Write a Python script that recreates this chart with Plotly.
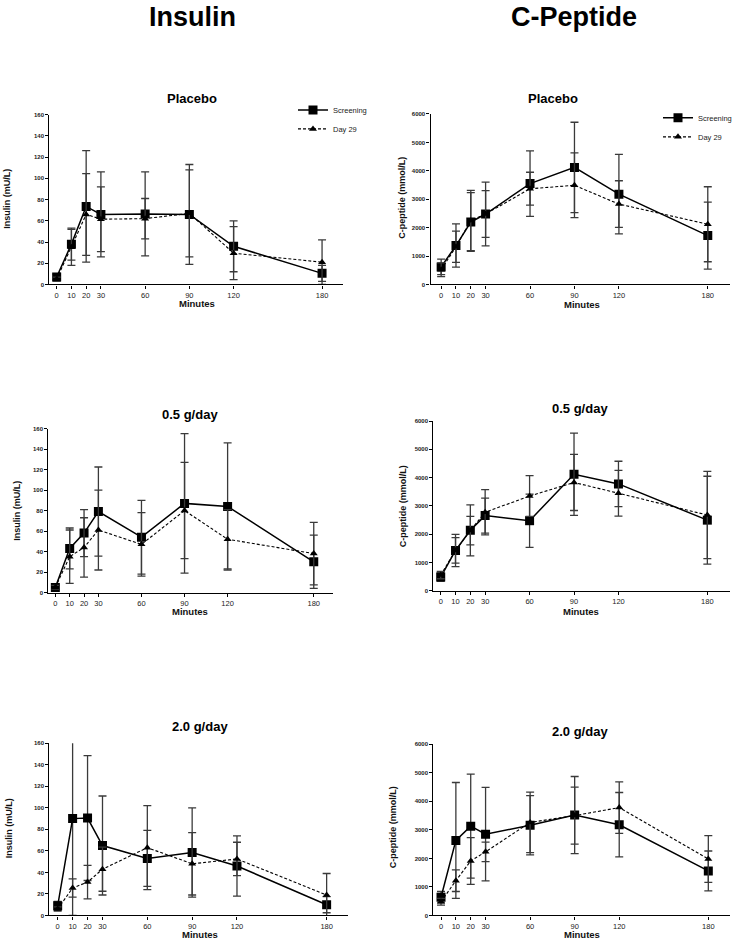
import plotly.graph_objects as go

W, H = 737, 944

minutes = [0, 10, 20, 30, 60, 90, 120, 180]
x_ticks = [0, 10, 20, 30, 60, 90, 120, 180]
ins_ticks = [0, 20, 40, 60, 80, 100, 120, 140, 160]
cp_ticks = [0, 1000, 2000, 3000, 4000, 5000, 6000]

# Insulin, Placebo
ins_pl_scr = [7, 38, 73.5, 66, 66.5, 66, 36, 10.5]
ins_pl_scr_sd = [2.5, 15, 52.5, 40, 39.5, 47, 24, 7.5]
ins_pl_d29 = [5, 35, 66, 61.5, 62, 67, 29.5, 21]
ins_pl_d29_sd = [2, 17, 38.5, 30.5, 19, 41, 25, 21]
# C-peptide, Placebo
cp_pl_scr = [620, 1370, 2200, 2480, 3550, 4120, 3180, 1720]
cp_pl_scr_sd = [270, 760, 1030, 1120, 1150, 1590, 1400, 1180]
cp_pl_d29 = [520, 1330, 2250, 2480, 3370, 3490, 2830, 2120]
cp_pl_d29_sd = [240, 550, 1060, 820, 580, 1140, 820, 1320]
# Insulin, 0.5 g/day
ins_05_scr = [5, 43, 58, 79, 54, 87, 84, 30]
ins_05_scr_sd = [2, 20, 23, 43.5, 36, 68, 62, 26]
ins_05_d29 = [5, 35, 44, 61, 47, 80, 52, 38]
ins_05_d29_sd = [2, 26, 29, 39, 31, 47, 29, 30.5]
# C-peptide, 0.5 g/day
cp_05_scr = [490, 1430, 2140, 2660, 2480, 4120, 3780, 2500]
cp_05_scr_sd = [150, 570, 900, 620, 940, 1450, 800, 1550]
cp_05_d29 = [560, 1430, 2130, 2780, 3350, 3830, 3450, 2680]
cp_05_d29_sd = [130, 450, 500, 800, 720, 990, 810, 1540]
# Insulin, 2.0 g/day
ins_20_scr = [9, 90, 90.5, 65, 53, 58.5, 46, 10]
ins_20_scr_sd = [4, 90, 58, 46, 26, 41.5, 28, 7.5]
ins_20_d29 = [6, 25.5, 31, 43, 63, 48, 52.5, 19]
ins_20_d29_sd = [2, 8.5, 15.5, 20.5, 39, 29, 15.5, 20]
# C-peptide, 2.0 g/day
cp_20_scr = [640, 2630, 3130, 2850, 3160, 3520, 3180, 1560]
cp_20_scr_sd = [200, 2030, 1820, 1640, 1040, 1350, 1130, 700]
cp_20_d29 = [480, 1220, 1910, 2230, 3260, 3500, 3780, 1980]
cp_20_d29_sd = [120, 380, 820, 340, 1060, 1000, 900, 820]

col_titles = ["Insulin", "C-Peptide"]
panel_titles = ["Placebo", "Placebo", "0.5 g/day", "0.5 g/day", "2.0 g/day", "2.0 g/day"]
y_titles = ["Insulin (mU/L)", "C-peptide (mmol/L)"] * 3
series_names = ["Screening", "Day 29"]

panels = [
    (ins_pl_scr, ins_pl_scr_sd, ins_pl_d29, ins_pl_d29_sd),
    (cp_pl_scr, cp_pl_scr_sd, cp_pl_d29, cp_pl_d29_sd),
    (ins_05_scr, ins_05_scr_sd, ins_05_d29, ins_05_d29_sd),
    (cp_05_scr, cp_05_scr_sd, cp_05_d29, cp_05_d29_sd),
    (ins_20_scr, ins_20_scr_sd, ins_20_d29, ins_20_d29_sd),
    (cp_20_scr, cp_20_scr_sd, cp_20_d29, cp_20_d29_sd),
]

# layout geometry in pixels: (x_left, x_right, y_top, y_bottom, xmin, xmax)
geom = [
    (49.3, 343.0, 112.3, 283.3, -5.0, 194.2),
    (430.5, 730.0, 111.7, 283.3, -7.2, 195.0),
    (48.3, 332.7, 428.3, 593.3, -4.9, 193.2),
    (433.3, 730.0, 420.7, 591.7, -5.0, 195.3),
    (49.3, 348.3, 745.0, 918.3, -5.6, 194.5),
    (433.3, 730.0, 746.0, 918.3, -5.2, 194.6),
]
title_pos = [(192, 96), (553, 96), (190, 414), (580, 408), (200, 728), (580, 733)]
ytitle_pos = [(7.5, 197.5), (402, 196), (17, 511), (402.5, 507), (8.5, 831), (392.5, 830)]
xtitle_pos = [(197, 302.5), (582, 303), (190, 612.5), (581, 612.5), (200, 937.5), (582, 937.5)]
coltitle_pos = [(192.5, 14), (574, 14)]

FONT = "Liberation Sans, Arial, sans-serif"
ERRC = "#3a3a3a"

fig = go.Figure()
annotations = []
layout_axes = {}

for i, (scr, scr_sd, d29, d29_sd) in enumerate(panels):
    k = i + 1
    xa = "x" if k == 1 else f"x{k}"
    ya = "y" if k == 1 else f"y{k}"
    legend_name = "legend2" if k == 2 else "legend"
    show = k in (1, 2)
    fig.add_trace(go.Scatter(
        x=minutes, y=scr, name=series_names[0], xaxis=xa, yaxis=ya,
        mode="lines+markers",
        line=dict(color="black", width=1.5),
        marker=dict(symbol="square", size=9, color="black"),
        error_y=dict(type="data", array=scr_sd, visible=True, color=ERRC, thickness=1.3, width=4),
        showlegend=show, legend=legend_name,
    ))
    fig.add_trace(go.Scatter(
        x=minutes, y=d29, name=series_names[1], xaxis=xa, yaxis=ya,
        mode="lines+markers",
        line=dict(color="black", width=1.1, dash="3px,2px"),
        marker=dict(symbol="triangle-up", size=7, color="black"),
        error_y=dict(type="data", array=d29_sd, visible=True, color=ERRC, thickness=1.3, width=4),
        showlegend=show, legend=legend_name,
    ))

    xl, xr, yt, yb, xmin, xmax = geom[i]
    is_ins = (i % 2 == 0)
    yticks = ins_ticks if is_ins else cp_ticks
    xkey = "xaxis" if k == 1 else f"xaxis{k}"
    ykey = "yaxis" if k == 1 else f"yaxis{k}"
    layout_axes[xkey] = dict(
        domain=[xl / W, xr / W], range=[xmin, xmax], anchor=ya,
        tickmode="array", tickvals=x_ticks, ticktext=[str(v) for v in x_ticks],
        showline=True, linecolor="black", linewidth=1.2,
        ticks="outside", ticklen=3, tickwidth=1, tickcolor="black",
        showgrid=False, zeroline=False,
        tickfont=dict(family=FONT, size=7.5, color="#222"),
    )
    layout_axes[ykey] = dict(
        domain=[1 - yb / H, 1 - yt / H], range=[0, yticks[-1]], anchor=xa,
        tickmode="array", tickvals=yticks, ticktext=[str(v) for v in yticks],
        showline=True, linecolor="black", linewidth=1.2,
        ticks="outside", ticklen=3, tickwidth=1, tickcolor="black",
        showgrid=False, zeroline=False,
        tickfont=dict(family=FONT, size=6, color="#222", weight="bold"),
    )
    tx, ty = title_pos[i]
    annotations.append(dict(text=f"<b>{panel_titles[i]}</b>", x=tx / W, y=1 - ty / H,
                            xref="paper", yref="paper", showarrow=False,
                            xanchor="center", yanchor="middle",
                            font=dict(family=FONT, size=13, color="black")))
    yx, yy = ytitle_pos[i]
    annotations.append(dict(text=f"<b>{y_titles[i]}</b>", x=yx / W, y=1 - yy / H,
                            xref="paper", yref="paper", showarrow=False, textangle=-90,
                            xanchor="center", yanchor="middle",
                            font=dict(family=FONT, size=9, color="#111")))
    mx, my = xtitle_pos[i]
    annotations.append(dict(text="<b>Minutes</b>", x=mx / W, y=1 - my / H,
                            xref="paper", yref="paper", showarrow=False,
                            xanchor="center", yanchor="middle",
                            font=dict(family=FONT, size=9.5, color="#111")))

for t, (cx, cy) in zip(col_titles, coltitle_pos):
    annotations.append(dict(text=f"<b>{t}</b>", x=cx / W, y=1 - cy / H,
                            xref="paper", yref="paper", showarrow=False,
                            xanchor="center", yanchor="middle",
                            font=dict(family=FONT, size=27, color="black")))

legend_common = dict(xanchor="left", yanchor="top", bgcolor="rgba(0,0,0,0)",
                     font=dict(family=FONT, size=7.5, color="#222"), borderwidth=0,
                     tracegroupgap=0)

fig.update_layout(
    width=W, height=H,
    margin=dict(l=0, r=0, t=0, b=0),
    paper_bgcolor="white", plot_bgcolor="white",
    showlegend=True,
    legend=dict(x=(333 - 40) / W, y=1 - 93 / H, **legend_common),
    legend2=dict(x=(698 - 40) / W, y=1 - 101 / H, **legend_common),
    annotations=annotations,
    font=dict(family=FONT),
    **layout_axes,
)

post = ("document.documentElement.style.margin='0';"
        "document.documentElement.style.padding='0';"
        "document.documentElement.style.overflow='hidden';"
        "document.body.style.margin='0';"
        "document.body.style.padding='0';"
        "document.body.style.overflow='hidden';")
fig.write_html("out.html", post_script=post, config={"displayModeBar": False})
